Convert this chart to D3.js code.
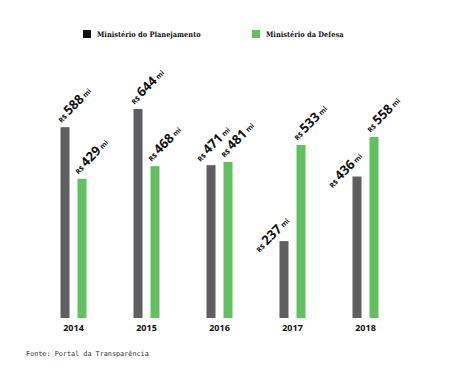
<!DOCTYPE html>
<html><head><meta charset="utf-8">
<script src="https://cdn.jsdelivr.net/npm/d3@7"></script>
<style>body{margin:0;background:#fff}svg{display:block}</style>
</head><body>
<script>
const years = ["2014","2015","2016","2017","2018"];
const planejamento = [588, 644, 471, 237, 436];
const defesa = [429, 468, 481, 533, 558];
const seriesNames = ["Ministério do Planejamento","Ministério da Defesa"];
const seriesColors = ["#5f5f62","#62bf62"];
const legendColors = ["#111111","#62bf62"];
const source = "Fonte: Portal da Transparência";

const W = 450, H = 378;
const svg = d3.select("body").append("svg").attr("width", W).attr("height", H);

const x = d3.scaleBand().domain(years).range([37, 402]).paddingInner(0).paddingOuter(0);
const inner = d3.scaleBand().domain([0,1]).range([-13, 13]).paddingInner(8/17).paddingOuter(0);
const y = d3.scaleLinear().domain([0, 644]).range([318, 109]);

const data = years.map((yr,i)=>({yr, vals:[planejamento[i], defesa[i]]}));

const g = svg.append("g");
data.forEach(d=>{
  const cx = x(d.yr) + x.bandwidth()/2;
  d.vals.forEach((v,s)=>{
    const bx = cx + inner(s);
    g.append("rect").attr("x", bx).attr("y", y(v)).attr("width", inner.bandwidth())
      .attr("height", y(0)-y(v)).attr("fill", seriesColors[s]);
    // label moves left of the bar when the neighbouring bar is taller
    const other = d.vals[1-s];
    const diff = y(v) - y(other);
    let tx = bx + 1, ty = y(v) - 4;
    if (s === 0 && diff > 25) { tx = bx - 20; ty = y(v) + 12; }
    else if (s === 0 && diff > 0) { tx = bx - 6; ty = y(v) - 3; }
    const t = g.append("text")
      .attr("transform", `translate(${tx},${ty}) rotate(-45)`)
      .attr("font-family","'Open Sans', sans-serif").attr("fill","#111");
    t.append("tspan").attr("font-size",7).attr("font-weight","bold").text("R$ ");
    t.append("tspan").attr("font-size",13).attr("font-weight","bold").text(v);
    t.append("tspan").attr("font-size",7).attr("font-weight","bold").attr("dx",2).attr("dy",-1).text("mi");
  });
});

// x axis labels
const xAxis = d3.axisBottom(x).tickSize(0).tickPadding(0);
const ax = svg.append("g").attr("transform","translate(0,325)").call(xAxis);
ax.select(".domain").remove();
ax.selectAll("text").attr("font-family","'Open Sans', sans-serif").attr("font-weight","bold")
  .attr("font-size",9).attr("fill","#111").attr("dy","0.71em");

// legend
const legX = [83, 252];
seriesNames.forEach((n,i)=>{
  svg.append("rect").attr("x",legX[i]).attr("y",30).attr("width",8).attr("height",8).attr("fill",legendColors[i]);
  svg.append("text").attr("x",legX[i]+14).attr("y",37).text(n)
    .attr("font-family","'DejaVu Serif', serif").attr("font-weight","bold")
    .attr("font-stretch","condensed")
    .attr("font-size",7.4).attr("fill","#111");
});

svg.append("text").attr("x",26).attr("y",356).text(source)
  .attr("font-family","'DejaVu Sans Mono', monospace").attr("font-size",6.8).attr("fill","#333");
</script>
</body></html>
